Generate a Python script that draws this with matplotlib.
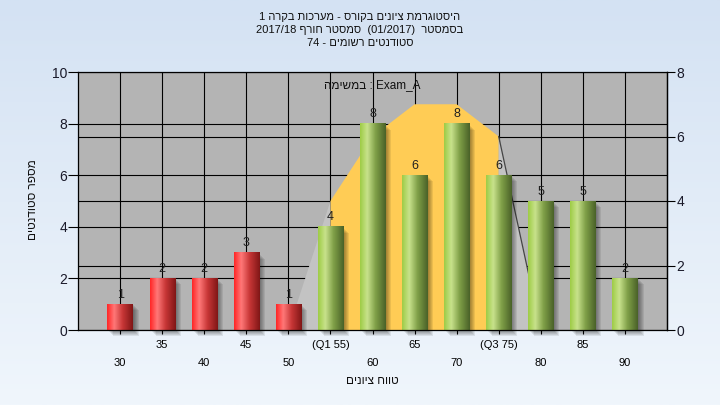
#!/usr/bin/env python3
"""Grade histogram for one course exam, with the Q1-Q3 band behind the bars."""

import re

import matplotlib

matplotlib.use("Agg")
import matplotlib.pyplot as plt
import matplotlib.transforms as mtransforms
import numpy as np
from matplotlib.patches import Polygon, Rectangle


GRADES = [30, 35, 40, 45, 50, 55, 60, 65, 70, 75, 80, 85, 90]
COUNTS = [1, 2, 2, 3, 1, 4, 8, 6, 8, 6, 5, 5, 2]
TICK_LABELS = ["30", "35", "40", "45", "50", "(Q1 55)", "60", "65", "70",
               "(Q3 75)", "80", "85", "90"]
PASS_GRADE = 55

# band drawn against the right axis (0-8)
BAND_GRADES = [50, 55, 60, 65, 70, 75, 80]
BAND_VALUES = [0, 4, 6, 7, 7, 6, 0]
Q1_GRADE = 55
Q3_GRADE = 75

LEFT_TICKS = [0, 2, 4, 6, 8, 10]
RIGHT_TICKS = [0, 2, 4, 6, 8]

TITLE_LINES = [
    "היסטוגרמת ציונים בקורס - מערכות בקרה 1",
    "בסמסטר  (01/2017)  סמסטר חורף 2017/18",
    "סטודנטים רשומים - 74",
]
Y_LABEL = "מספר סטודנטים"
X_LABEL = "טווח ציונים"
TASK_WORD = "במשימה"
TASK_NAME = "Exam_A"

FONT = ["Liberation Sans", "DejaVu Sans"]
PLOT_BG = "#B4B4B4"
BAND_COLOR = "#FFCC55"
TAIL_COLOR = "#C3C3C3"
RED_STOPS = [(255, 38, 38), (255, 120, 120), (200, 55, 55), (128, 22, 22)]
GREEN_STOPS = [(158, 204, 70), (200, 226, 140), (128, 160, 72), (74, 98, 40)]
STOP_POS = [0.0, 0.28, 0.6, 1.0]


def to_visual(text: str) -> str:
    """Rough bidi for an RTL line: flip the string, keep LTR runs readable."""
    rev = text[::-1]
    rev = re.sub(r"[0-9A-Za-z_/.:]+", lambda m: m.group(0)[::-1], rev)
    return rev.translate(str.maketrans("()", ")("))


def cylinder(stops):
    t = np.linspace(0, 1, 64)
    rgb = np.array(stops, dtype=float) / 255.0
    cols = np.stack([np.interp(t, STOP_POS, rgb[:, i]) for i in range(3)], axis=-1)
    return cols[np.newaxis, :, :]


def main() -> None:
    plt.rcParams["font.family"] = FONT
    fig = plt.figure(figsize=(7.2, 4.05), dpi=100)

    # light blue gradient behind everything
    bg = fig.add_axes([0, 0, 1, 1], zorder=-5)
    top = np.array([212, 226, 243]) / 255.0
    bot = np.array([240, 246, 252]) / 255.0
    t = np.linspace(0, 1, 200)[:, None]
    grad = (top * (1 - t) + bot * t)[:, None, :]
    bg.imshow(grad, aspect="auto", extent=[0, 1, 0, 1])
    bg.axis("off")

    ax = fig.add_axes([78 / 720, 75 / 405, 589 / 720, 258 / 405])
    ax.set_facecolor(PLOT_BG)
    ax.set_axisbelow(True)

    x = np.arange(len(GRADES))
    width = 0.6
    ymax_left = LEFT_TICKS[-1]
    ymax_right = RIGHT_TICKS[-1]
    # right-axis units mapped onto the left-axis data space
    right_tr = mtransforms.Affine2D().scale(1, ymax_left / ymax_right) + ax.transData

    # x ticks on two staggered rows (minor ones carry the lower row)
    odd = x[1::2]
    even = x[0::2]
    ax.set_xticks(odd, [TICK_LABELS[i] for i in odd])
    ax.set_xticks(even, [TICK_LABELS[i] for i in even], minor=True)
    ax.set_yticks(LEFT_TICKS)

    # grid
    ax.grid(True, which="both", color="black", linewidth=0.8)
    for v in RIGHT_TICKS[1:-1]:
        ax.plot([-1, len(GRADES)], [v, v], color="black", linewidth=0.8,
                transform=right_tr, zorder=0.6)

    # Q1-Q3 band and tails
    bx = [GRADES.index(g) for g in BAND_GRADES]
    i1 = BAND_GRADES.index(Q1_GRADE)
    i3 = BAND_GRADES.index(Q3_GRADE)
    mid = list(zip(bx[i1:i3 + 1], BAND_VALUES[i1:i3 + 1]))
    band = [(bx[i1], 0)] + mid + [(bx[i3], 0)]
    ax.add_patch(Polygon(band, closed=True, facecolor=BAND_COLOR, edgecolor="none",
                         transform=right_tr, zorder=1))
    left_tail = [(bx[0], BAND_VALUES[0]), (bx[i1], BAND_VALUES[i1]), (bx[i1], 0)]
    right_tail = [(bx[i3], BAND_VALUES[i3]), (bx[-1], BAND_VALUES[-1]), (bx[i3], 0)]
    for tail in (left_tail, right_tail):
        ax.add_patch(Polygon(tail, closed=True, facecolor=TAIL_COLOR, edgecolor="none",
                             transform=right_tr, zorder=1))
    ax.plot([bx[i3], bx[-1]], [BAND_VALUES[i3], BAND_VALUES[-1]], color="#454545",
            linewidth=0.9, transform=right_tr, zorder=1.2)

    # bars with soft shadow and cylinder shading
    red_img = cylinder(RED_STOPS)
    green_img = cylinder(GREEN_STOPS)
    for xi, grade, count in zip(x, GRADES, COUNTS):
        x0 = xi - width / 2
        for k in range(1, 7):
            off = mtransforms.offset_copy(ax.transData, fig=fig, x=k, y=-k, units="dots")
            ax.add_patch(Rectangle((x0, 0), width, count, facecolor="black", alpha=0.08,
                                   edgecolor="none", transform=off, zorder=2,
                                   clip_on=False))
        img = red_img if grade < PASS_GRADE else green_img
        ax.imshow(img, extent=[x0, x0 + width, 0, count], aspect="auto",
                  interpolation="bilinear", zorder=3)
        ax.annotate(str(count), (xi, count), xytext=(0, 2.5), textcoords="offset points",
                    ha="center", va="bottom", fontsize=9, color="#202020", zorder=6)

    ax.set_xlim(-1, len(GRADES))
    ax.set_ylim(0, ymax_left)
    for s in ax.spines.values():
        s.set_zorder(5)
        s.set_linewidth(0.9)

    ax.tick_params(axis="x", which="major", length=3, width=0.8, pad=4, labelsize=8)
    ax.tick_params(axis="x", which="minor", length=3, width=0.8, pad=17, labelsize=8)
    ax.tick_params(axis="y", length=7, width=0.8, pad=1, labelsize=10,
                   labelcolor="#1a1a2a")

    sec = ax.secondary_yaxis("right", functions=(lambda v: v * ymax_right / ymax_left,
                                                 lambda v: v * ymax_left / ymax_right))
    sec.set_yticks(RIGHT_TICKS)
    sec.tick_params(length=6, width=0.8, pad=1, labelsize=10, labelcolor="#1a1a2a")
    sec.spines["right"].set_linewidth(0.9)

    ax.text(0.5, 1 - 13 / 258, to_visual(TASK_WORD) + " : " + TASK_NAME,
            transform=ax.transAxes, ha="center", va="center", fontsize=8.5,
            color="#101010", zorder=6)

    for i, line in enumerate(TITLE_LINES):
        fig.text(0.5, 1 - (17 + 13 * i) / 405, to_visual(line), ha="center",
                 va="center", fontsize=8, color="#101010")
    fig.text(33 / 720, 1 - 200 / 405, to_visual(Y_LABEL), rotation=90, ha="center",
             va="center", fontsize=8.5, color="#101010")
    fig.text(372 / 720, 1 - 381 / 405, to_visual(X_LABEL), ha="center", va="center",
             fontsize=8.5, color="#101010")

    fig.savefig("out.png", dpi=100)
    plt.close(fig)


if __name__ == "__main__":
    main()
